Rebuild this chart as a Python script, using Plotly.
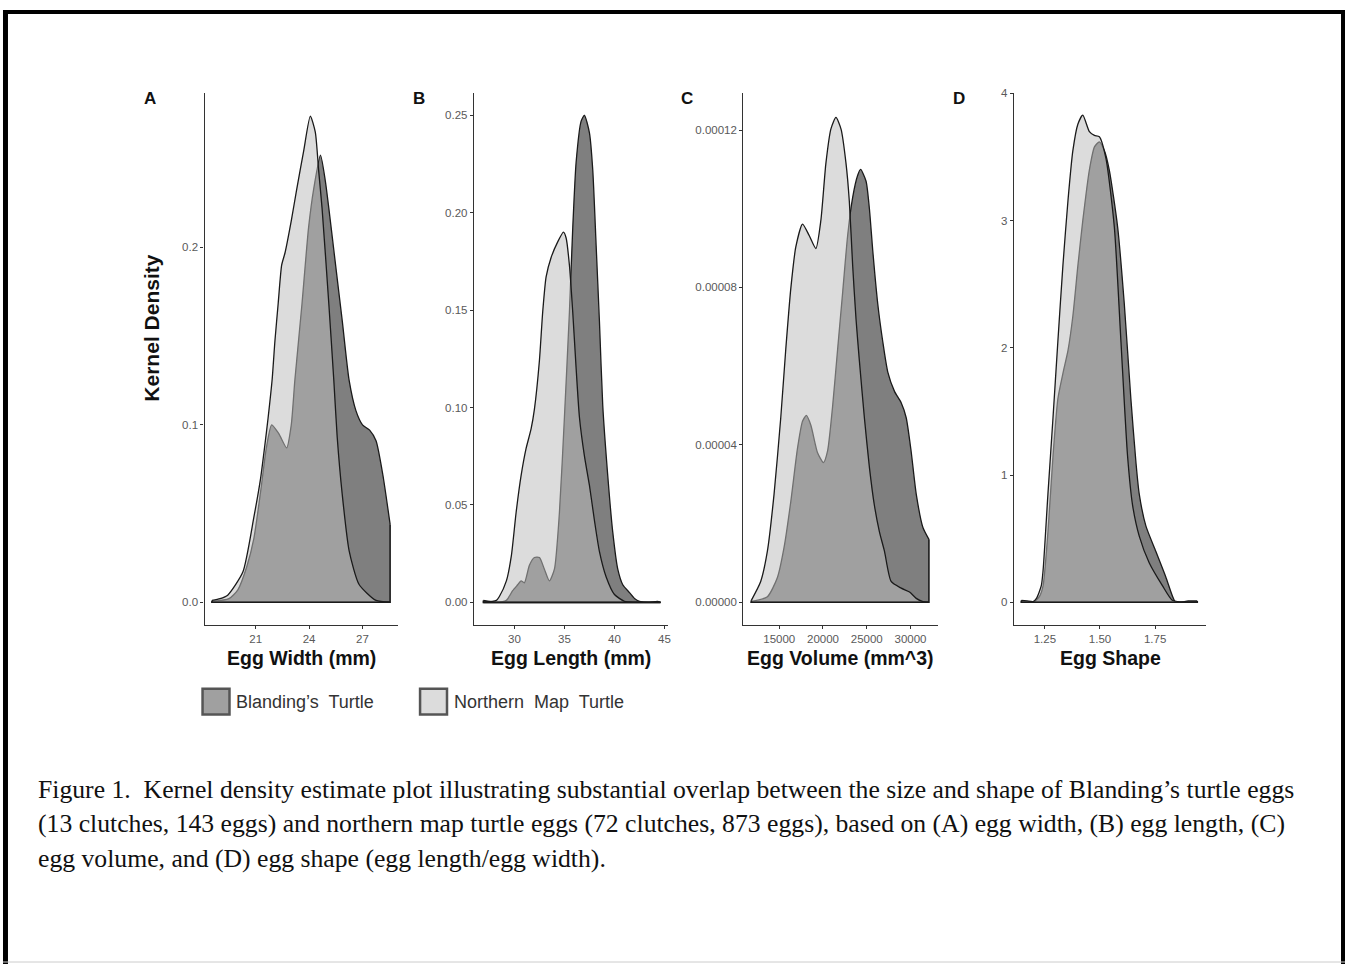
import plotly.graph_objects as go

# ---------------- data ----------------
series_names = ["Blanding\u2019s\u00a0 Turtle", "Northern\u00a0 Map\u00a0 Turtle"]

# Panel A: Egg Width (mm)
a_x_nm = [18.55, 19.0, 19.43, 20.28, 20.9, 21.28, 21.51, 21.70, 21.93, 22.08, 22.27, 22.46, 22.65, 23.0, 23.31,
          23.69, 24.07, 24.35, 24.54, 24.73, 25.11, 25.39, 25.58, 25.86, 26.25, 26.81, 27.76, 28.55]
a_y_nm = [0.001, 0.002, 0.004, 0.017, 0.048, 0.070, 0.088, 0.104, 0.126, 0.147, 0.169, 0.190, 0.197, 0.215, 0.233,
          0.254, 0.274, 0.265, 0.243, 0.222, 0.168, 0.125, 0.093, 0.061, 0.029, 0.010, 0.001, 0.0]
a_x_bt = [18.55, 19.5, 20.0, 20.5, 20.9, 21.3, 21.6, 21.9, 22.3, 22.74, 23.0, 23.2, 23.6, 23.97, 24.26, 24.64,
          24.92, 25.11, 25.49, 25.87, 26.25, 26.63, 27.0, 27.4, 27.76, 28.14, 28.55]
a_y_bt = [0.0005, 0.002, 0.007, 0.020, 0.036, 0.064, 0.087, 0.100, 0.095, 0.087, 0.100, 0.125, 0.168, 0.211, 0.233,
          0.252, 0.237, 0.222, 0.190, 0.158, 0.125, 0.108, 0.100, 0.097, 0.091, 0.072, 0.044]

# Panel B: Egg Length (mm)
b_x_nm = [26.9, 28.2, 28.5, 29.2, 29.7, 30.17, 30.67, 31.17, 31.67, 32.0, 32.5, 32.83, 33.17, 33.67, 34.33, 34.9,
          35.17, 35.5, 35.83, 36.17, 36.5, 37.0, 37.5, 38.0, 38.5, 39.17, 40.0, 41.0, 42.0, 44.6]
b_y_nm = [0.0, 0.001, 0.003, 0.011, 0.024, 0.046, 0.065, 0.079, 0.089, 0.099, 0.124, 0.149, 0.167, 0.177, 0.185,
          0.190, 0.187, 0.173, 0.149, 0.120, 0.095, 0.075, 0.060, 0.042, 0.026, 0.013, 0.004, 0.0005, 0.0, 0.0]
b_x_bt = [26.9, 27.5, 28.2, 29.2, 29.83, 30.33, 30.67, 31.0, 31.5, 32.0, 32.5, 33.0, 33.5, 34.0, 34.5, 35.0, 35.5,
          35.83, 36.17, 36.67, 37.0, 37.5, 37.83, 38.17, 38.5, 38.83, 39.33, 39.83, 40.33, 40.83, 41.5, 42.0, 42.5,
          43.5, 44.3, 44.6]
b_y_bt = [0.001, 0.0005, 0.0, 0.001, 0.006, 0.009, 0.011, 0.010, 0.019, 0.023, 0.023, 0.017, 0.011, 0.017, 0.046,
          0.095, 0.149, 0.192, 0.226, 0.247, 0.250, 0.241, 0.222, 0.183, 0.144, 0.101, 0.065, 0.036, 0.017, 0.009,
          0.005, 0.002, 0.0005, 0.0, 0.0005, 0.0]

# Panel C: Egg Volume (mm^3), density in units of 1e-5
c_x_nm = [11806, 12877, 13642, 14406, 15171, 15745, 16318, 16892, 17657, 18422, 19186, 19760, 20334, 20907, 21481,
          22054, 22628, 23010, 23393, 23775, 24158, 24731, 25305, 25878, 26452, 27026, 27790, 28938, 29894, 30659,
          31424, 32110]
c_y_nm = [0.05, 0.53, 1.30, 2.75, 4.69, 6.43, 7.97, 9.03, 9.61, 9.32, 8.99, 9.71, 11.16, 12.03, 12.32, 12.03, 11.16,
          10.19, 8.55, 7.20, 6.14, 4.69, 3.43, 2.46, 1.79, 1.30, 0.53, 0.36, 0.26, 0.10, 0.02, 0.0]
c_x_bt = [11806, 13642, 14789, 15554, 16318, 17083, 17657, 18100, 18613, 19378, 20050, 20525, 21098, 21672, 22246,
          22819, 23393, 23966, 24300, 24923, 25305, 25688, 26262, 26835, 27408, 28173, 28938, 29512, 30085, 30659,
          31424, 32110]
c_y_bt = [0.02, 0.14, 0.63, 1.40, 2.56, 3.91, 4.60, 4.75, 4.50, 3.80, 3.55, 3.85, 4.98, 6.43, 7.87, 9.32, 10.29,
          10.85, 11.0, 10.70, 10.0, 8.94, 7.58, 6.62, 5.85, 5.36, 5.07, 4.69, 3.82, 2.75, 1.90, 1.60]

# Panel D: Egg Shape
d_x_nm = [1.144, 1.17, 1.197, 1.212, 1.234, 1.242, 1.264, 1.287, 1.309, 1.332, 1.355, 1.377, 1.40, 1.422, 1.452,
          1.475, 1.497, 1.527, 1.565, 1.595, 1.625, 1.648, 1.678, 1.723, 1.783, 1.828, 1.88, 1.941]
d_y_nm = [0.015, 0.01, 0.005, 0.03, 0.13, 0.25, 0.85, 1.45, 2.05, 2.65, 3.16, 3.55, 3.76, 3.83, 3.70, 3.67, 3.66,
          3.49, 2.95, 2.05, 1.15, 0.76, 0.52, 0.31, 0.13, 0.015, 0.0, 0.0]
d_x_bt = [1.144, 1.20, 1.227, 1.242, 1.264, 1.287, 1.309, 1.332, 1.355, 1.377, 1.40, 1.422, 1.452, 1.475, 1.497,
          1.52, 1.542, 1.58, 1.61, 1.64, 1.663, 1.678, 1.708, 1.753, 1.798, 1.828, 1.843, 1.90, 1.941]
d_y_bt = [0.01, 0.0, 0.05, 0.13, 0.55, 1.15, 1.60, 1.80, 1.98, 2.25, 2.65, 3.0, 3.40, 3.58, 3.62, 3.55, 3.40, 2.95,
          2.35, 1.60, 1.10, 0.85, 0.60, 0.40, 0.20, 0.05, 0.0, 0.01, 0.01]

# axis tick definitions
a_ticks = [21, 24, 27]
b_ticks = [30, 35, 40, 45]
c_ticks = [15000, 20000, 25000, 30000]
d_ticks = [1.25, 1.50, 1.75]
d_ticklabels = ["1.25", "1.50", "1.75"]
a_yticks = [0.0, 0.1, 0.2]
a_yticklabels = ["0.0", "0.1", "0.2"]
b_yticks = [0.0, 0.05, 0.10, 0.15, 0.20, 0.25]
b_yticklabels = ["0.00", "0.05", "0.10", "0.15", "0.20", "0.25"]
c_yticks = [0.0, 4.0, 8.0, 12.0]          # in 1e-5 units
c_yticklabels = ["0.00000", "0.00004", "0.00008", "0.00012"]
d_yticks = [0, 1, 2, 3, 4]

x_titles = ["Egg Width (mm)", "Egg Length (mm)", "Egg Volume (mm^3)", "Egg Shape"]
panel_letters = ["A", "B", "C", "D"]

caption_lines = [
    "Figure 1.  Kernel density estimate plot illustrating substantial overlap between the size and shape of Blanding\u2019s turtle eggs",
    "(13 clutches, 143 eggs) and northern map turtle eggs (72 clutches, 873 eggs), based on (A) egg width, (B) egg length, (C)",
    "egg volume, and (D) egg shape (egg length/egg width).",
]

# ---------------- styling / layout ----------------
W, H = 1349, 964
SANS = "Liberation Sans, Arial, sans-serif"
SERIF = "Liberation Serif, Times New Roman, serif"
DARK_FILL = "#7f7f7f"
LIGHT_FILL = "rgba(189,189,189,0.53)"
OUTLINE = "#1a1a1a"

panel_px = [(205, 399), (475, 669), (745, 940), (1016, 1209)]
y_top_px, y_bot_px = 88, 623
x_ranges = [[18.13, 29.0], [25.96, 45.3], [10894, 33137], [1.109, 1.982]]
y_ranges = [[-0.0129, 0.2868], [-0.0117, 0.2612], [-0.58, 12.93], [-0.18, 4.0]]

panels = [
    (a_x_bt, a_y_bt, a_x_nm, a_y_nm, a_ticks, [str(t) for t in a_ticks], a_yticks, a_yticklabels),
    (b_x_bt, b_y_bt, b_x_nm, b_y_nm, b_ticks, [str(t) for t in b_ticks], b_yticks, b_yticklabels),
    (c_x_bt, c_y_bt, c_x_nm, c_y_nm, c_ticks, [str(t) for t in c_ticks], c_yticks, c_yticklabels),
    (d_x_bt, d_y_bt, d_x_nm, d_y_nm, d_ticks, d_ticklabels, d_yticks, [str(t) for t in d_yticks]),
]

fig = go.Figure()


def add_density(xs, ys, xa, ya, fillcolor, name):
    # filled smooth density curve
    fig.add_trace(go.Scatter(x=xs, y=ys, xaxis=xa, yaxis=ya, mode="lines", fill="tozeroy",
                             fillcolor=fillcolor,
                             line=dict(color=OUTLINE, width=1.3, shape="spline", smoothing=0.6),
                             showlegend=False, name=name, hoverinfo="skip"))
    # closing edges of the density polygon (ends + baseline)
    fig.add_trace(go.Scatter(x=[xs[0], xs[0], xs[-1], xs[-1]], y=[ys[0], 0, 0, ys[-1]],
                             xaxis=xa, yaxis=ya, mode="lines",
                             line=dict(color=OUTLINE, width=1.6), showlegend=False, hoverinfo="skip"))


layout_axes = {}
for i, (xb, yb, xn, yn, xt, xtl, yt, ytl) in enumerate(panels):
    n = "" if i == 0 else str(i + 1)
    xa, ya = "x" + n, "y" + n
    add_density(xb, yb, xa, ya, DARK_FILL, series_names[0])
    add_density(xn, yn, xa, ya, LIGHT_FILL, series_names[1])
    x0, x1 = panel_px[i]
    common = dict(showgrid=False, zeroline=False, showline=True, linecolor="#333333", linewidth=1.3,
                  ticks="outside", ticklen=3, tickwidth=1, tickcolor="#333333",
                  tickfont=dict(family=SANS, size=11.5, color="#595959"))
    layout_axes["xaxis" + n] = dict(domain=[x0 / W, x1 / W], range=x_ranges[i], anchor=ya,
                                    tickvals=xt, ticktext=xtl, **common)
    layout_axes["yaxis" + n] = dict(domain=[1 - y_bot_px / H, 1 - y_top_px / H], range=y_ranges[i], anchor=xa,
                                    tickvals=yt, ticktext=ytl, **common)

fig.update_layout(**layout_axes)

annotations = []
letter_x = [150, 420, 689, 961]
for i in range(4):
    x0, x1 = panel_px[i]
    annotations.append(dict(x=(x0 + x1) / 2 / W, y=1 - 656 / H, xref="paper", yref="paper",
                            text="<b>" + x_titles[i] + "</b>", showarrow=False,
                            font=dict(family=SANS, size=19.5, color="#111111"), xanchor="center", yanchor="middle"))
    annotations.append(dict(x=letter_x[i] / W, y=1 - 93 / H, xref="paper", yref="paper",
                            text="<b>" + panel_letters[i] + "</b>", showarrow=False,
                            font=dict(family=SANS, size=17, color="#111111"), xanchor="center", yanchor="middle"))
annotations.append(dict(x=152 / W, y=1 - 324 / H, xref="paper", yref="paper", text="<b>Kernel Density</b>",
                        textangle=-90, showarrow=False, font=dict(family=SANS, size=21, color="#111111"),
                        xanchor="center", yanchor="middle"))

# legend (drawn manually)
legend_fills = ["#a0a0a0", "#dcdcdc"]
legend_box_x = [203, 421]
shapes = []
for k in range(2):
    bx = legend_box_x[k]
    shapes.append(dict(type="rect", xref="paper", yref="paper", x0=bx / W, x1=(bx + 27) / W,
                       y0=1 - 713 / H, y1=1 - 687 / H, fillcolor=legend_fills[k],
                       line=dict(color="#555555", width=2.5)))
    annotations.append(dict(x=(bx + 32) / W, y=1 - 700 / H, xref="paper", yref="paper", text=series_names[k],
                            showarrow=False, font=dict(family=SANS, size=18, color="#333333"),
                            xanchor="left", yanchor="middle"))

# caption
caption_y = [788, 823, 858]
for line, cy in zip(caption_lines, caption_y):
    annotations.append(dict(x=36 / W, y=1 - cy / H, xref="paper", yref="paper", text=line, showarrow=False,
                            font=dict(family=SERIF, size=25.7, color="#111111"), xanchor="left", yanchor="middle"))

# page frame
frame = [(3, 1348, 4, 8), (3, 8, 4, 964), (1344, 1348, 4, 964)]
for (fx0, fx1, fy0, fy1) in frame:
    shapes.append(dict(type="rect", xref="paper", yref="paper", x0=fx0 / W, x1=fx1 / W,
                       y0=1 - fy1 / H, y1=1 - fy0 / H, fillcolor="#000000", line=dict(width=0)))
shapes.append(dict(type="line", xref="paper", yref="paper", x0=3 / W, x1=1348 / W, y0=1 - 962 / H, y1=1 - 962 / H,
                   line=dict(color="#cccccc", width=1)))

fig.update_layout(width=W, height=H, margin=dict(l=0, r=0, t=0, b=0), paper_bgcolor="white",
                  plot_bgcolor="white", showlegend=False, annotations=annotations, shapes=shapes)

fig.write_html("out.html", config={"displayModeBar": False},
               post_script="document.body.style.margin='0';document.body.style.overflow='hidden';")
